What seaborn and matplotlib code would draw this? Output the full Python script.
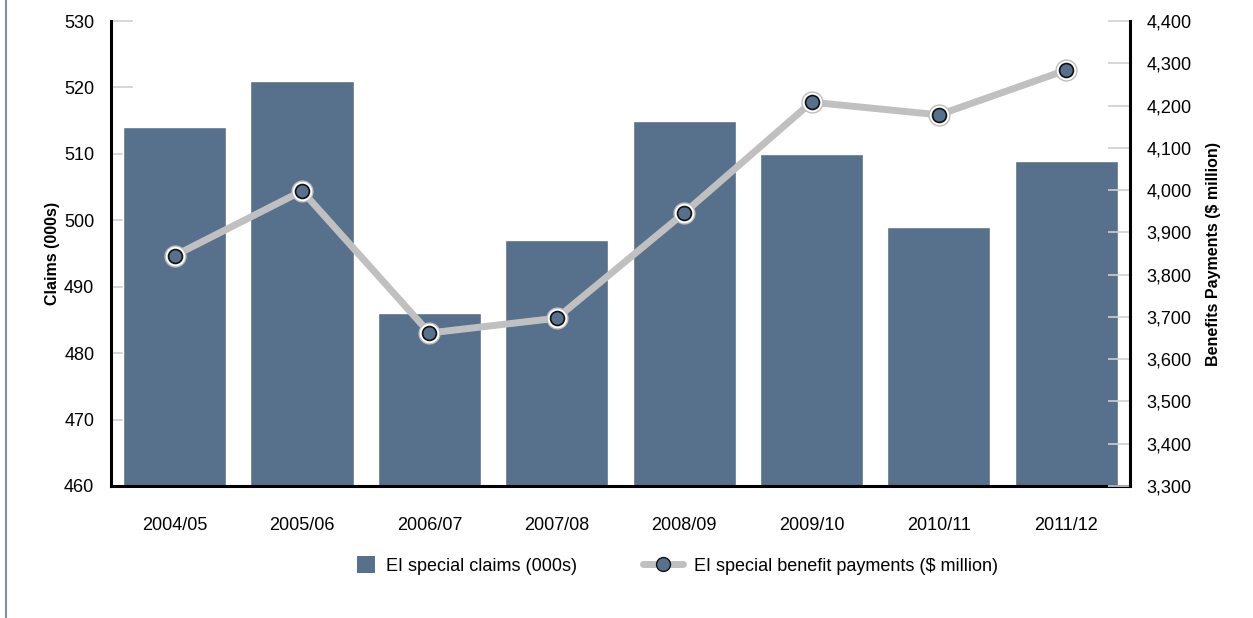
import pandas as pd
import matplotlib.pyplot as plt
import seaborn as sns
from matplotlib.lines import Line2D
from matplotlib.patches import Patch, Rectangle
from matplotlib.legend_handler import HandlerPatch
from matplotlib.ticker import FuncFormatter

years = ["2004/05", "2005/06", "2006/07", "2007/08",
         "2008/09", "2009/10", "2010/11", "2011/12"]
claims = [514, 521, 486, 497, 515, 510, 499, 509]
payments = [3845, 3998, 3662, 3697, 3946, 4208, 4178, 4284]

bar_color = "#57708b"
line_color = "#c0c0c0"

df = pd.DataFrame({"year": years, "claims": claims, "payments": payments})

sns.set_style("white")
plt.rcParams["font.family"] = ["Liberation Sans", "DejaVu Sans"]
plt.rcParams["text.color"] = "black"
plt.rcParams["xtick.color"] = "black"
plt.rcParams["ytick.color"] = "black"
plt.rcParams["axes.labelcolor"] = "black"

fig = plt.figure(figsize=(12.53, 6.18), dpi=100)
ax = fig.add_axes([0.0886, 0.2136, 0.8132, 0.7524])

sns.barplot(data=df, x="year", y="claims", color=bar_color, width=0.81,
            saturation=1, ax=ax)
ax.set_ylim(460, 530)
ax.set_yticks(range(460, 531, 10))
ax.set_xlim(-0.5, len(years) - 0.5)
ax.set_xlabel("")
ax.set_ylabel("Claims (000s)", fontsize=11.5, fontweight="bold")
ax.yaxis.set_label_coords(-0.05, 0.5)

ax2 = ax.twinx()
sns.pointplot(data=df, x="year", y="payments", color=line_color,
              markers="", linewidth=5, errorbar=None, ax=ax2)
sns.pointplot(data=df, x="year", y="payments", color="white",
              markers="o", linestyles="none", markersize=15,
              markeredgecolor="#bdbdbd", markeredgewidth=1,
              errorbar=None, ax=ax2)
sns.pointplot(data=df, x="year", y="payments", color=bar_color,
              markers="o", linestyles="none", markersize=10,
              markeredgecolor="#111111", markeredgewidth=1.2,
              errorbar=None, ax=ax2)
ax2.set_ylim(3300, 4400)
ax2.set_yticks(range(3300, 4401, 100))
ax2.yaxis.set_major_formatter(FuncFormatter(lambda v, p: f"{int(v):,}"))
ax2.set_xlim(-0.5, len(years) - 0.5)
ax2.set_xlabel("")
ax2.set_ylabel("Benefits Payments ($ million)", fontsize=11.5,
               fontweight="bold")
ax2.yaxis.set_label_coords(1.0745, 0.5)

for a in (ax, ax2):
    for s in a.spines.values():
        s.set_visible(False)
ax.spines["left"].set_visible(True)
ax.spines["bottom"].set_visible(True)
ax2.spines["right"].set_visible(True)
for a, side in ((ax, "left"), (ax, "bottom"), (ax2, "right")):
    a.spines[side].set_color("black")
    a.spines[side].set_linewidth(2.2)

ax.tick_params(axis="y", direction="in", length=16, width=1.2,
               color="#d0d0d0", labelcolor="black", labelsize=13, pad=12,
               left=True)
ax2.tick_params(axis="y", direction="in", length=16, width=1.2,
                color="#d0d0d0", labelcolor="black", labelsize=13, pad=12,
                right=True)
ax.tick_params(axis="x", length=0, labelsize=13, pad=22, labelcolor="black")
ax2.tick_params(axis="x", length=0, labelbottom=False)


def square_at_right(legend, orig_handle, xdescent, ydescent, width, height,
                    fontsize):
    s = 12.5
    return Rectangle((-xdescent + width - s, -ydescent + (height - s) / 2),
                     s, s)


handles = [
    Patch(facecolor=bar_color, edgecolor="none"),
    Line2D([0], [0], color=line_color, lw=5, marker="o", markersize=10,
           markerfacecolor=bar_color, markeredgecolor="#111111"),
]
fig.legend(handles, ["EI special claims (000s)",
                     "EI special benefit payments ($ million)"],
           loc="center", bbox_to_anchor=(0.532, 0.084), ncol=2,
           frameon=False, fontsize=13, handlelength=2.2, handletextpad=0.6,
           columnspacing=3.7,
           handler_map={Patch: HandlerPatch(patch_func=square_at_right)})

fig.add_artist(Line2D([0.005, 0.005], [0, 1], color="#7d8fae", lw=1.5))

fig.savefig("out.png", dpi=100)
